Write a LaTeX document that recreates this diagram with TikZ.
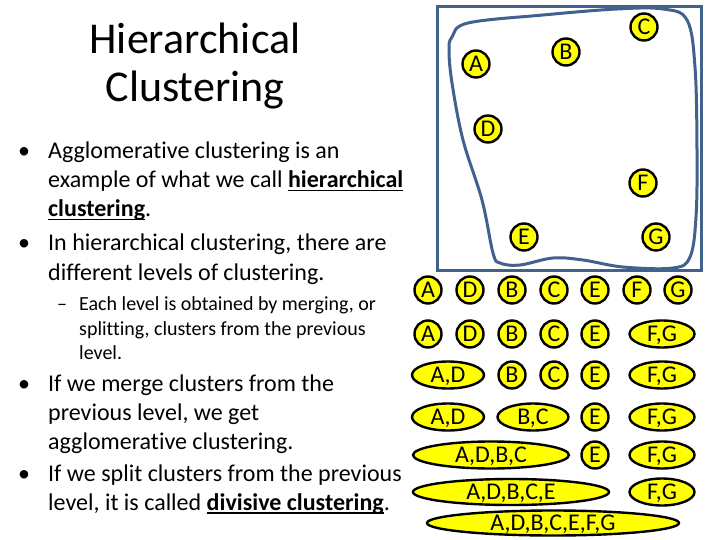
\documentclass[tikz,border=0pt]{standalone}
\usepackage{fontspec}
\setmainfont{Carlito}[Ligatures=CommonOff]
\usetikzlibrary{shapes.geometric}
\definecolor{boxblue}{RGB}{65,98,140}
\definecolor{ptyellow}{RGB}{255,255,0}
\newsavebox{\ulbox}
\newcommand{\bul}[1]{\sbox{\ulbox}{\textbf{#1}}\rlap{\rule[-3.5pt]{\wd\ulbox}{1.6pt}}\usebox{\ulbox}}
\begin{document}
\begin{tikzpicture}[x=1pt,y=-1pt,
  pt/.style={circle,draw=black,line width=2.4pt,fill=ptyellow,minimum size=27pt,inner sep=0pt,
    text height=15.3pt,text depth=0pt,font=\fontsize{24}{24}\selectfont},
  cl/.style={ellipse,draw=black,line width=2.4pt,fill=ptyellow,minimum height=27pt,inner sep=0pt,
    text height=15.3pt,text depth=0pt,font=\fontsize{24}{24}\selectfont},
  body/.style={anchor=base west,inner sep=0pt,font=\fontsize{24}{29}\selectfont},
  subb/.style={anchor=base west,inner sep=0pt,font=\fontsize{20}{24}\selectfont},
  ttl/.style={anchor=base,inner sep=0pt,font=\fontsize{44}{48}\selectfont},
  frame/.style={draw=boxblue,line width=3pt}]
\useasboundingbox (0,0) rectangle (720,540);
\fill[white] (0,0) rectangle (720,540);

% title
\node[ttl] (t1) at (195,54) {Hierarchical};
\node[ttl] (t2) at (195,102) {Clustering};

% bullets
\node[body] (b1) at (18,159) {•};
\node[body] (l1) at (48,159) {Agglomerative clustering is an};
\node[body] (l2) at (48,188) {example of what we call \bul{hierarchical}};
\node[body] (l3) at (48,217) {\bul{clustering}.};
\node[body] (b2) at (18,251) {•};
\node[body] (l4) at (48,251) {In hierarchical clustering, there are};
\node[body] (l5) at (48,280) {different levels of clustering.};
\node[subb] (d1) at (57,310) {–};
\node[subb] (s1) at (79,310) {Each level is obtained by merging, or};
\node[subb] (s2) at (79,335) {splitting, clusters from the previous};
\node[subb] (s3) at (79,359) {level.};
\node[body] (b3) at (18,391) {•};
\node[body] (l6) at (48,391) {If we merge clusters from the};
\node[body] (l7) at (48,420) {previous level, we get};
\node[body] (l8) at (48,449) {agglomerative clustering.};
\node[body] (b4) at (18,481) {•};
\node[body] (l9) at (48,481) {If we split clusters from the previous};
\node[body] (l10) at (48,510) {level, it is called \bul{divisive clustering}.};

% frame and blob
\draw[frame] (437,7) rectangle (701,270);
\draw[frame] plot[smooth cycle,tension=0.6] coordinates {
  (452,37) (468,23) (543,15) (617,9) (663,9) (687,20)
  (695,67) (697,150) (696,217) (690,257) (673,268)
  (623,267) (583,260) (553,258) (520,265) (500,263) (493,253)
  (482,200) (463,140) (452,83) (449,50)};

% points in the frame
\node[pt] (pA) at (476,64) {A};
\node[pt] (pB) at (566,52) {B};
\node[pt] (pC) at (644,27) {C};
\node[pt] (pD) at (488,129) {D};
\node[pt] (pE) at (524,237) {E};
\node[pt] (pF) at (643,183) {F};
\node[pt] (pG) at (656,237) {G};

% level 1
\node[pt] (r1a) at (428,290) {A};
\node[pt] (r1d) at (470,290) {D};
\node[pt] (r1b) at (512,290) {B};
\node[pt] (r1c) at (554,290) {C};
\node[pt] (r1e) at (595,290) {E};
\node[pt] (r1f) at (637,290) {F};
\node[pt] (r1g) at (678,290) {G};
% level 2
\node[pt] (r2a) at (428,334) {A};
\node[pt] (r2d) at (470,334) {D};
\node[pt] (r2b) at (512,334) {B};
\node[pt] (r2c) at (554,334) {C};
\node[pt] (r2e) at (595,334) {E};
\node[cl,minimum width=65pt] (r2fg) at (662,334) {F,G};
% level 3
\node[cl,minimum width=72pt] (r3ad) at (448,375) {A,D};
\node[pt] (r3b) at (512,375) {B};
\node[pt] (r3c) at (554,375) {C};
\node[pt] (r3e) at (595,375) {E};
\node[cl,minimum width=65pt] (r3fg) at (662,375) {F,G};
% level 4
\node[cl,minimum width=72pt] (r4ad) at (448,417) {A,D};
\node[cl,minimum width=71pt] (r4bc) at (533,417) {B,C};
\node[pt] (r4e) at (595,417) {E};
\node[cl,minimum width=65pt] (r4fg) at (662,417) {F,G};
% level 5
\node[cl,minimum width=156pt] (r5adbc) at (491,455) {A,D,B,C};
\node[pt] (r5e) at (595,455) {E};
\node[cl,minimum width=65pt] (r5fg) at (662,455) {F,G};
% level 6
\node[cl,minimum width=196pt,minimum height=26pt] (r6) at (511,492) {A,D,B,C,E};
\node[cl,minimum width=65pt] (r6fg) at (662,492) {F,G};
% level 7
\node[cl,minimum width=252pt,minimum height=25pt] (r7) at (553,523) {A,D,B,C,E,F,G};
\end{tikzpicture}
\end{document}
